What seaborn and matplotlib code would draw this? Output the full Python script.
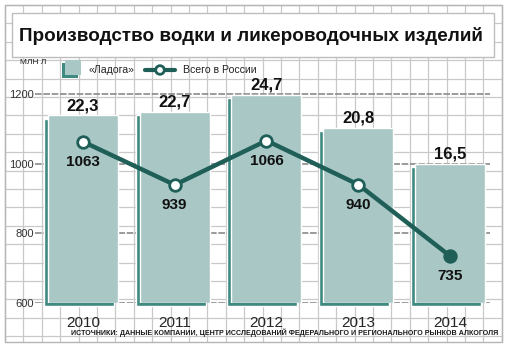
import numpy as np
import pandas as pd
import matplotlib
matplotlib.use("Agg")
import matplotlib.pyplot as plt
import seaborn as sns
from matplotlib.patches import Rectangle, Circle

# ---- data ----
years = ["2010", "2011", "2012", "2013", "2014"]
ladoga = [22.3, 22.7, 24.7, 20.8, 16.5]          # «Ладога», млн л
russia = [1063, 939, 1066, 940, 735]             # Всего в России, млн л
y_ticks = [600, 800, 1000, 1200]
title = "Производство водки и ликероводочных изделий"
unit_label = "МЛН Л"
legend_bar = "«Ладога»"
legend_line = "Всего в России"
source = "ИСТОЧНИКИ: ДАННЫЕ КОМПАНИИ, ЦЕНТР ИССЛЕДОВАНИЙ ФЕДЕРАЛЬНОГО И РЕГИОНАЛЬНОГО РЫНКОВ АЛКОГОЛЯ"

df = pd.DataFrame({"year": years, "ladoga": ladoga, "russia": russia,
                   "pos": np.arange(len(years))})

sns.set_theme(style="white")
plt.rcParams["font.family"] = ["Liberation Sans", "DejaVu Sans"]

W, H = 509, 348
fig = plt.figure(figsize=(W / 100, H / 100), dpi=100)
fig.patch.set_facecolor("white")

BAR_FACE = "#a9c8c5"
BAR_DARK = "#3f8a80"
LINE_C = "#1f5f58"
GRID_C = "#c9c9c9"

# ---- background grid paper ----
bg = fig.add_axes([0, 0, 1, 1])
bg.set_xlim(0, W)
bg.set_ylim(H, 0)
bg.axis("off")
step = 18.4
for x in np.arange(5, 503, step):
    bg.plot([x, x], [5, 342], color=GRID_C, lw=0.9, zorder=0)
for y in np.arange(5, 343, step):
    bg.plot([5, 502], [y, y], color=GRID_C, lw=0.9, zorder=0)
bg.add_patch(Rectangle((5, 5), 497, 337, fill=False, ec="#b5b5b5", lw=1.0, zorder=1))

# title box
bg.add_patch(Rectangle((12, 13), 482, 44, fc="white", ec="#bdbdbd", lw=1.0, zorder=2))
bg.text(251, 36, title, ha="center", va="center", fontsize=13.6, fontweight="bold",
        color="#111111", zorder=3)

# unit and legend
bg.text(20, 62, unit_label, ha="left", va="center", fontsize=6,
        color="#222222", zorder=3)
bg.add_patch(Rectangle((62, 63), 16, 15, fc=BAR_DARK, ec="none", zorder=3))
bg.add_patch(Rectangle((65, 60), 16, 15, fc=BAR_FACE, ec="none", zorder=4))
bg.text(89, 70, legend_bar, ha="left", va="center", fontsize=7.6,
        color="#222222", zorder=3)
bg.plot([145, 175], [70, 70], color=LINE_C, lw=3, solid_capstyle="round", zorder=3)
bg.add_patch(Circle((160, 70), 4.3, fc="white", ec=LINE_C, lw=2, zorder=4))
bg.text(183, 70, legend_line, ha="left", va="center", fontsize=7.6,
        color="#222222", zorder=3)

# source
bg.text(498, 333, source, ha="right", va="center", fontsize=5.1, fontweight="bold",
        color="#1a1a1a", zorder=3)

# ---- chart axes ----
left, right, top_px, bot_px = 35, 490, 80, 303
rect = [left / W, 1 - bot_px / H, (right - left) / W, (bot_px - top_px) / H]
ax = fig.add_axes(rect)
ax.patch.set_visible(False)
y_lo, y_hi = 600, 1240
ax.set_ylim(y_lo, y_hi)
ax.set_xlim(-0.523, 4.436)
ax.set_yticks(y_ticks)
ax.set_yticklabels([str(t) for t in y_ticks], fontsize=8, color="#333333")
ax.tick_params(axis="y", length=0, pad=1)
ax.set_xticks([])
for t in y_ticks:
    ax.axhline(t, color="#8a8a8a", lw=1.2, ls=(0, (4, 1)), zorder=0)
for s in ax.spines.values():
    s.set_visible(False)

# bars (own scale)
axb = ax.twinx()
axb.patch.set_visible(False)
px_per_prim = (bot_px - 94) / 600.0
px_per_bar = 208 / 24.7
bar_top = (y_hi - y_lo) * px_per_prim / px_per_bar
axb.set_ylim(0, bar_top)
bw = 0.763
axb.bar(df["pos"] - 0.045, df["ladoga"], width=bw, bottom=-0.4, color=BAR_DARK,
        clip_on=False, zorder=1)
sns.barplot(data=df, x="pos", y="ladoga", ax=axb, color=BAR_FACE, width=bw,
            saturation=1, order=list(range(len(years))), native_scale=True, zorder=2)
axb.set_xlim(-0.523, 4.436)
for x, v in zip(df["pos"], df["ladoga"]):
    axb.annotate(f"{v:.1f}".replace(".", ","), (x, v), xytext=(0, 1.5),
                 textcoords="offset points", ha="center", va="bottom",
                 fontsize=12, fontweight="bold", color="#111111", annotation_clip=False)
axb.set_yticks([])
axb.set_ylabel("")
axb.set_xlabel("")
axb.set_xticks([])
for s in axb.spines.values():
    s.set_visible(False)

# line
axl = ax.twinx()
axl.patch.set_visible(False)
axl.set_ylim(y_lo, y_hi)
sns.lineplot(data=df, x="pos", y="russia", ax=axl, color=LINE_C, lw=3.2, zorder=3)
axl.scatter(df["pos"][:-1], df["russia"][:-1], s=70, facecolor="white",
            edgecolor=LINE_C, linewidth=2, zorder=4)
axl.scatter(df["pos"][-1:], df["russia"][-1:], s=70, facecolor=LINE_C,
            edgecolor=LINE_C, linewidth=2, zorder=4)
for x, v in zip(df["pos"], df["russia"]):
    axl.annotate(str(v), (x, v), xytext=(0, -14.5), textcoords="offset points",
                 ha="center", va="center", fontsize=11, fontweight="bold",
                 color="#111111", annotation_clip=False)
axl.set_xlim(-0.523, 4.436)
axl.set_xticks(df["pos"])
axl.set_xticklabels(years, fontsize=8.3, color="#222222")
axl.tick_params(axis="x", length=0, pad=2)
axl.set_yticks([])
axl.set_xlabel("")
axl.set_ylabel("")
for s in axl.spines.values():
    s.set_visible(False)

fig.savefig("out.png", dpi=100)
